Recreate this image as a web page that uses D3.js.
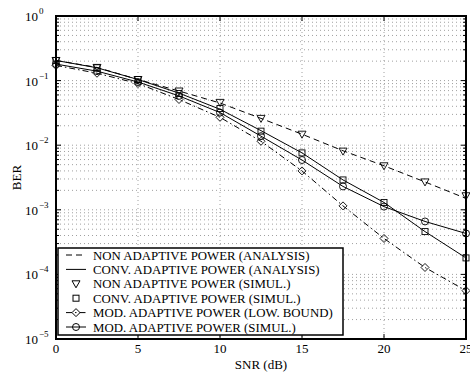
<!DOCTYPE html>
<html>
<head>
<meta charset="utf-8">
<script src="https://cdn.jsdelivr.net/npm/d3@7"></script>
<style>
  body { margin: 0; background: #fff; }
  svg { display: block; }
  text { font-family: "Liberation Serif", "DejaVu Serif", serif; }
</style>
</head>
<body>
<svg id="chart" width="470" height="376"></svg>
<script>
// SNR points (dB)
const snr = [0, 2.5, 5, 7.5, 10, 12.5, 15, 17.5, 20, 22.5, 25];

// BER curves
const nonAdaptAnalysis = [0.205, 0.16, 0.104, 0.069, 0.045, 0.026, 0.0148, 0.0082, 0.0048, 0.0027, 0.0015];
const convAdaptAnalysis = [0.205, 0.158, 0.104, 0.064, 0.036, 0.0168, 0.0076, 0.0029, 0.0013, 0.00046, 0.00018];
const nonAdaptSimul = [0.205, 0.16, 0.104, 0.069, 0.046, 0.026, 0.0148, 0.0081, 0.0048, 0.0027, 0.00165];
const convAdaptSimul = [0.205, 0.158, 0.104, 0.063, 0.037, 0.0165, 0.0076, 0.0029, 0.0013, 0.00046, 0.00018];
const modLowBound = [0.172, 0.13, 0.09, 0.051, 0.027, 0.0115, 0.004, 0.00115, 0.00036, 0.000128, 0.000056];
const modAdaptSimul = [0.18, 0.14, 0.095, 0.058, 0.032, 0.0138, 0.0059, 0.0023, 0.00112, 0.00066, 0.00043];

const xTicks = [0, 5, 10, 15, 20, 25];
const yExps = [0, -1, -2, -3, -4, -5];

const legendLabels = [
  'NON ADAPTIVE POWER (ANALYSIS)',
  'CONV. ADAPTIVE POWER (ANALYSIS)',
  'NON ADAPTIVE POWER (SIMUL.)',
  'CONV. ADAPTIVE POWER (SIMUL.)',
  'MOD. ADAPTIVE POWER (LOW. BOUND)',
  'MOD. ADAPTIVE POWER (SIMUL.)'
];

const svg = d3.select('#chart');
const pL = 56, pR = 466, pT = 16, pB = 339;

const x = d3.scaleLinear().domain([0, 25]).range([pL, pR]);
const y = d3.scaleLog().domain([1e-5, 1]).range([pB, pT]);

// grid
const grid = svg.append('g').attr('stroke', '#888').attr('stroke-width', 0.8)
  .attr('stroke-dasharray', '1,3');
const minor = [];
for (let e = -5; e < 0; e++)
  for (let m = 1; m < 10; m++) minor.push(m * Math.pow(10, e));
minor.push(1);
minor.filter(v => v > 1e-5 && v < 1).forEach(v => {
  grid.append('line').attr('x1', pL).attr('x2', pR)
    .attr('y1', y(v)).attr('y2', y(v));
});
xTicks.slice(1, -1).forEach(v => {
  grid.append('line').attr('x1', x(v)).attr('x2', x(v))
    .attr('y1', pT).attr('y2', pB);
});

// ticks (inside, both sides)
const ticks = svg.append('g').attr('stroke', '#000').attr('stroke-width', 1);
xTicks.forEach(v => {
  ticks.append('line').attr('x1', x(v)).attr('x2', x(v)).attr('y1', pB).attr('y2', pB - 5);
  ticks.append('line').attr('x1', x(v)).attr('x2', x(v)).attr('y1', pT).attr('y2', pT + 5);
});
minor.forEach(v => {
  const len = Math.abs(Math.log10(v) - Math.round(Math.log10(v))) < 1e-9 ? 5 : 3;
  ticks.append('line').attr('x1', pL).attr('x2', pL + len).attr('y1', y(v)).attr('y2', y(v));
  ticks.append('line').attr('x1', pR).attr('x2', pR - len).attr('y1', y(v)).attr('y2', y(v));
});

// curves
const line = d3.line().x(d => x(d[0])).y(d => y(d[1]));
const zip = arr => snr.map((s, i) => [s, arr[i]]);

const curves = svg.append('g').attr('fill', 'none').attr('stroke', '#000').attr('stroke-width', 1);
curves.append('path').attr('d', line(zip(nonAdaptAnalysis))).attr('stroke-dasharray', '6,4');
curves.append('path').attr('d', line(zip(convAdaptAnalysis)));
curves.append('path').attr('d', line(zip(modLowBound))).attr('stroke-dasharray', '6,3,1.5,3');
curves.append('path').attr('d', line(zip(modAdaptSimul)));

function marker(g, kind, cx, cy) {
  if (kind === 'tri') {
    g.append('path').attr('d', `M${cx - 4},${cy - 3}L${cx + 4},${cy - 3}L${cx},${cy + 4}Z`);
  } else if (kind === 'sq') {
    g.append('rect').attr('x', cx - 3).attr('y', cy - 3).attr('width', 6).attr('height', 6);
  } else if (kind === 'dia') {
    g.append('path').attr('d', `M${cx},${cy - 4}L${cx + 4},${cy}L${cx},${cy + 4}L${cx - 4},${cy}Z`);
  } else if (kind === 'circ') {
    g.append('circle').attr('cx', cx).attr('cy', cy).attr('r', 3.5);
  }
}

const marks = svg.append('g').attr('fill', 'none').attr('stroke', '#000').attr('stroke-width', 0.9);
zip(nonAdaptSimul).forEach(d => marker(marks, 'tri', x(d[0]), y(d[1])));
zip(convAdaptSimul).forEach(d => marker(marks, 'sq', x(d[0]), y(d[1])));
zip(modLowBound).forEach(d => marker(marks, 'dia', x(d[0]), y(d[1])));
zip(modAdaptSimul).forEach(d => marker(marks, 'circ', x(d[0]), y(d[1])));

// frame
svg.append('rect').attr('x', pL).attr('y', pT).attr('width', pR - pL).attr('height', pB - pT)
  .attr('fill', 'none').attr('stroke', '#000').attr('stroke-width', 2);

// tick labels
svg.append('g').selectAll('text').data(xTicks).join('text')
  .attr('x', d => x(d)).attr('y', pB + 14).attr('text-anchor', 'middle')
  .attr('font-size', 13).text(d => d);

const yl = svg.append('g');
yExps.forEach(e => {
  yl.append('text').attr('x', pL - 18).attr('y', y(Math.pow(10, e)) + 5)
    .attr('text-anchor', 'end').attr('font-size', 13).text('10');
  yl.append('text').attr('x', pL - 17).attr('y', y(Math.pow(10, e)) - 2)
    .attr('font-size', 9).text(e === 0 ? '0' : '\u2212' + (-e));
});

svg.append('text').attr('x', (pL + pR) / 2).attr('y', 369).attr('text-anchor', 'middle')
  .attr('font-size', 13).text('SNR (dB)');
svg.append('text').attr('transform', `translate(21,${(pT + pB) / 2}) rotate(-90)`)
  .attr('text-anchor', 'middle').attr('font-size', 13).text('BER');

// legend
const lg = svg.append('g');
lg.append('rect').attr('x', 58).attr('y', 248).attr('width', 285).attr('height', 87)
  .attr('fill', '#fff').attr('stroke', '#000').attr('stroke-width', 1.5);
const legendKinds = [
  {dash: '6,4', mk: null},
  {dash: null, mk: null},
  {dash: 'none', mk: 'tri'},
  {dash: 'none', mk: 'sq'},
  {dash: '6,3,1.5,3', mk: 'dia'},
  {dash: null, mk: 'circ'}
];
const texts = [];
legendLabels.forEach((lab, i) => {
  const ry = 255 + i * 14.4;
  const k = legendKinds[i];
  const g = lg.append('g').attr('fill', 'none').attr('stroke', '#000').attr('stroke-width', 1);
  if (k.dash !== 'none') {
    const l = g.append('line').attr('x1', 66).attr('x2', 86).attr('y1', ry).attr('y2', ry);
    if (k.dash) l.attr('stroke-dasharray', k.dash);
  }
  if (k.mk) marker(g, k.mk, 76, ry);
  texts.push(lg.append('text').attr('x', 93).attr('y', ry + 4.5).attr('font-size', 12).text(lab));
});
// size legend text so the longest label spans as in the figure
const widest = d3.max(texts, t => t.node().getComputedTextLength());
const fs = Math.min(14, 12 * 240 / widest);
texts.forEach(t => t.attr('font-size', fs));
</script>
</body>
</html>
